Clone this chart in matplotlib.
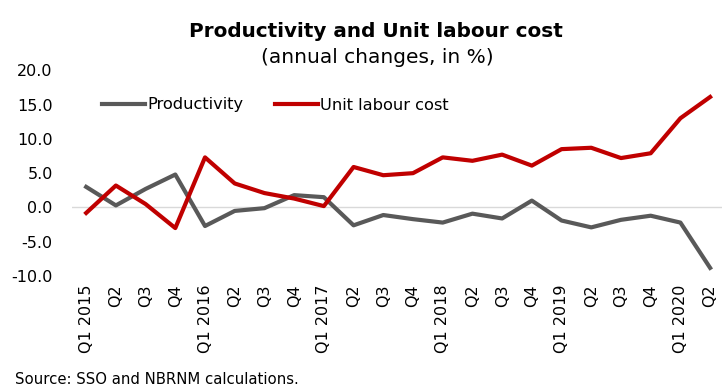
import matplotlib
matplotlib.use("Agg")
import matplotlib.pyplot as plt

# quarterly annual changes, in %
quarters = ["Q1 2015", "Q2", "Q3", "Q4",
            "Q1 2016", "Q2", "Q3", "Q4",
            "Q1 2017", "Q2", "Q3", "Q4",
            "Q1 2018", "Q2", "Q3", "Q4",
            "Q1 2019", "Q2", "Q3", "Q4",
            "Q1 2020", "Q2"]
productivity = [3.0, 0.3, 2.7, 4.8, -2.7, -0.5, -0.1, 1.8, 1.5, -2.6, -1.1,
                -1.7, -2.2, -0.9, -1.6, 1.0, -1.9, -2.9, -1.8, -1.2, -2.2, -8.8]
unit_labour_cost = [-0.8, 3.2, 0.5, -3.0, 7.3, 3.5, 2.1, 1.3, 0.2, 5.9, 4.7,
                    5.0, 7.3, 6.8, 7.7, 6.1, 8.5, 8.7, 7.2, 7.9, 13.0, 16.1]
yticks = [-10, -5, 0, 5, 10, 15, 20]

plt.rcParams['font.family'] = ['DejaVu Sans']

fig = plt.figure(figsize=(7.22, 3.90), dpi=100)
ax = fig.add_axes([0.10, 0.292, 0.9, 0.528])

x = range(len(quarters))
ax.plot(x, productivity, color="#595959", lw=3.0, label="Productivity")
ax.plot(x, unit_labour_cost, color="#c00000", lw=3.0, label="Unit labour cost")
ax.axhline(0, color="#d9d9d9", lw=1, zorder=0)

ax.set_ylim(-10, 20)
ax.set_yticks(yticks)
ax.set_yticklabels([f"{v:.1f}" for v in yticks])
ax.set_xlim(-0.47, len(quarters) - 0.6)
ax.set_xticks(list(x))
ax.set_xticklabels(quarters, rotation=90)
ax.tick_params(length=0, labelsize=11.5, pad=6)
ax.tick_params(axis="y", pad=14)
for s in ax.spines.values():
    s.set_visible(False)

ax.legend(loc="center left", bbox_to_anchor=(102 / 722, 1 - 105 / 390),
          bbox_transform=fig.transFigure, ncol=2, frameon=False,
          borderaxespad=0, borderpad=0, fontsize=11.7, handlelength=2.65,
          handletextpad=0.15, columnspacing=1.9)

fig.text(0.52, 0.905, "Productivity and Unit labour cost", ha="center",
         fontsize=14.4, fontweight="bold")
fig.text(0.523, 0.838, "(annual changes, in %)", ha="center", fontsize=14.5)
fig.text(0.021, 0.015, "Source: SSO and NBRNM calculations.", fontsize=10.7)

fig.savefig("out.png", dpi=100)
